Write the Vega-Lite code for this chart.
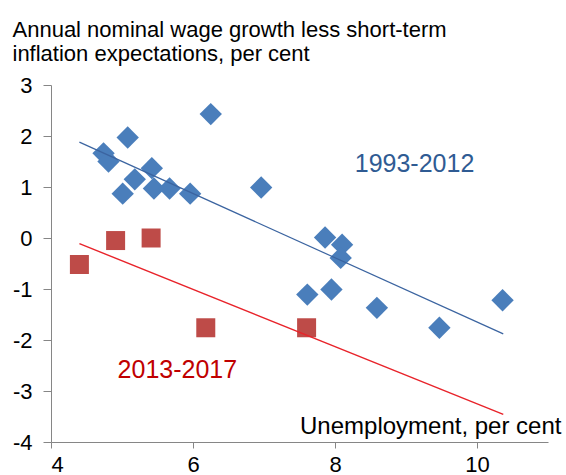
{
  "$schema": "https://vega.github.io/schema/vega-lite/v6.json",
  "width": 497,
  "height": 357,
  "autosize": "none",
  "padding": {"left": 51, "top": 85, "right": 18, "bottom": 33},
  "background": "white",
  "config": {"view": {"stroke": null}, "font": "Liberation Sans"},
  "datasets": {
    "points": [
      {"unemp": 4.74, "wage": 1.66, "period": "1993-2012"},
      {"unemp": 4.81, "wage": 1.50, "period": "1993-2012"},
      {"unemp": 5.01, "wage": 0.87, "period": "1993-2012"},
      {"unemp": 5.08, "wage": 1.97, "period": "1993-2012"},
      {"unemp": 5.18, "wage": 1.15, "period": "1993-2012"},
      {"unemp": 5.42, "wage": 1.37, "period": "1993-2012"},
      {"unemp": 5.45, "wage": 0.97, "period": "1993-2012"},
      {"unemp": 5.67, "wage": 0.97, "period": "1993-2012"},
      {"unemp": 5.96, "wage": 0.87, "period": "1993-2012"},
      {"unemp": 6.25, "wage": 2.43, "period": "1993-2012"},
      {"unemp": 6.96, "wage": 0.99, "period": "1993-2012"},
      {"unemp": 7.86, "wage": 0.01, "period": "1993-2012"},
      {"unemp": 8.10, "wage": -0.13, "period": "1993-2012"},
      {"unemp": 8.08, "wage": -0.39, "period": "1993-2012"},
      {"unemp": 7.61, "wage": -1.11, "period": "1993-2012"},
      {"unemp": 7.95, "wage": -1.01, "period": "1993-2012"},
      {"unemp": 8.59, "wage": -1.37, "period": "1993-2012"},
      {"unemp": 9.47, "wage": -1.76, "period": "1993-2012"},
      {"unemp": 10.36, "wage": -1.22, "period": "1993-2012"},
      {"unemp": 4.40, "wage": -0.52, "period": "2013-2017"},
      {"unemp": 4.91, "wage": -0.05, "period": "2013-2017"},
      {"unemp": 5.41, "wage": 0.00, "period": "2013-2017"},
      {"unemp": 6.18, "wage": -1.76, "period": "2013-2017"},
      {"unemp": 7.60, "wage": -1.76, "period": "2013-2017"}
    ],
    "trend": [
      {"unemp": 4.40, "wage": 1.88, "period": "1993-2012"},
      {"unemp": 10.37, "wage": -1.88, "period": "1993-2012"},
      {"unemp": 4.40, "wage": -0.11, "period": "2013-2017"},
      {"unemp": 10.37, "wage": -3.46, "period": "2013-2017"}
    ],
    "notes": [
      {"unemp": 9.12, "wage": 1.45, "label": "1993-2012", "kind": "blue"},
      {"unemp": 5.78, "wage": -2.59, "label": "2013-2017", "kind": "red"},
      {"unemp": 11.19, "wage": -3.85, "label": "Unemployment, per cent", "kind": "axis"}
    ]
  },
  "encoding": {
    "x": {
      "field": "unemp", "type": "quantitative",
      "scale": {"domain": [4, 11], "nice": false, "zero": false},
      "axis": {
        "values": [4, 6, 8, 10], "title": null, "grid": false,
        "domainColor": "#868686", "tickColor": "#868686", "tickSize": 6,
        "labelFontSize": 22, "labelColor": "#000000", "labelPadding": 6,
        "labelFont": "Liberation Sans"
      }
    },
    "y": {
      "field": "wage", "type": "quantitative",
      "scale": {"domain": [-4, 3], "nice": false, "zero": false},
      "axis": {
        "values": [-4, -3, -2, -1, 0, 1, 2, 3], "grid": false,
        "labelExpr": "datum.value < 0 ? '-' + abs(datum.value) : '' + datum.value",
        "title": ["Annual nominal wage growth less short-term", "inflation expectations, per cent"],
        "titleX": -39, "titleY": -49, "titleAngle": 0, "titleAlign": "left",
        "titleBaseline": "alphabetic", "titleFontSize": 22, "titleFontWeight": "normal",
        "titleColor": "#000000", "titleLineHeight": 24, "titleFont": "Liberation Sans",
        "domainColor": "#868686", "tickColor": "#868686", "tickSize": 8,
        "labelFontSize": 22, "labelColor": "#000000", "labelPadding": 11,
        "labelFont": "Liberation Sans"
      }
    }
  },
  "layer": [
    {
      "data": {"name": "points"},
      "transform": [{"filter": "datum.period === '1993-2012'"}],
      "mark": {"type": "point", "shape": "diamond", "filled": true, "opacity": 1, "size": 500, "color": "#4A7EBB"}
    },
    {
      "data": {"name": "points"},
      "transform": [{"filter": "datum.period === '2013-2017'"}],
      "mark": {"type": "square", "opacity": 1, "size": 361, "color": "#BE4B48"}
    },
    {
      "data": {"name": "trend"},
      "transform": [{"filter": "datum.period === '1993-2012'"}],
      "mark": {"type": "line", "color": "#3B64A0", "strokeWidth": 1.2}
    },
    {
      "data": {"name": "trend"},
      "transform": [{"filter": "datum.period === '2013-2017'"}],
      "mark": {"type": "line", "color": "#E8232A", "strokeWidth": 1.4}
    },
    {
      "data": {"name": "notes"},
      "transform": [{"filter": "datum.kind === 'blue'"}],
      "mark": {"type": "text", "align": "center", "baseline": "middle", "fontSize": 25, "color": "#2F5B93", "font": "Liberation Sans"},
      "encoding": {"text": {"field": "label"}}
    },
    {
      "data": {"name": "notes"},
      "transform": [{"filter": "datum.kind === 'red'"}],
      "mark": {"type": "text", "align": "center", "baseline": "middle", "fontSize": 25, "color": "#C00000", "font": "Liberation Sans"},
      "encoding": {"text": {"field": "label"}}
    },
    {
      "data": {"name": "notes"},
      "transform": [{"filter": "datum.kind === 'axis'"}],
      "mark": {"type": "text", "align": "right", "baseline": "alphabetic", "fontSize": 24, "color": "#000000", "font": "Liberation Sans"},
      "encoding": {"text": {"field": "label"}}
    }
  ]
}
